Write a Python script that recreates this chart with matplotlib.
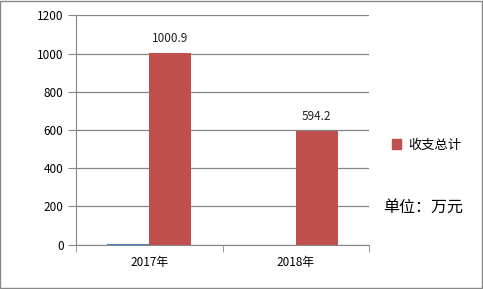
import matplotlib
matplotlib.use("Agg")
import matplotlib.pyplot as plt
import numpy as np

plt.rcParams['font.family'] = ['Noto Sans CJK SC', 'DejaVu Sans']

categories = ["2017年", "2018年"]
series_blue = [5, 0]
series_total = [1000.9, 594.2]
total_name = "收支总计"
yticks = [0, 200, 400, 600, 800, 1000, 1200]

blue = "#4F81BD"
red = "#C0504D"
grid = "#868686"

fig = plt.figure(figsize=(4.83, 2.89), dpi=100)
ax = fig.add_axes([76/483, 1-244.7/289, (369-76)/483, (244.7-15.3)/289])

x = np.arange(len(categories))
w = 0.286
ax.bar(x - w/2, series_blue, width=w, color=blue, zorder=3)
bars = ax.bar(x + w/2, series_total, width=w, color=red, zorder=3, label=total_name)
for b, v in zip(bars, series_total):
    ax.annotate(f"{v}", (b.get_x() + b.get_width()/2, v), xytext=(0, 6),
                textcoords="offset points", ha="center", va="bottom", fontsize=8.5, color="#222222")

ax.set_xlim(-0.5, 1.5)
ax.set_ylim(0, 1200)
ax.set_yticks(yticks)
ax.set_yticklabels([str(t) for t in yticks], fontsize=8.5)
ax.yaxis.grid(True, color=grid, linewidth=0.9, zorder=0)
ax.set_xticks(x)
ax.set_xticklabels(categories, fontsize=8.5)
ax.tick_params(axis='x', length=0, pad=8)
ax.set_xticks([-0.5, 0.5, 1.5], minor=True)
ax.tick_params(axis='x', which='minor', length=5, color=grid, direction='out')
ax.tick_params(axis='y', length=6, color=grid, direction='out', pad=3)
for s in ['top', 'right']:
    ax.spines[s].set_visible(False)
ax.spines['left'].set_color(grid)
ax.spines['bottom'].set_color(grid)

fig.patches.append(plt.Rectangle((0.001, 0.002), 0.997, 0.995, transform=fig.transFigure,
                                 fill=False, edgecolor="#888888", linewidth=1))

handles = [plt.Rectangle((0, 0), 1, 1, color=red)]
fig.legend(handles, [total_name], loc="center left", bbox_to_anchor=(380/483, 1-145/289),
           frameon=False, fontsize=9.5, handlelength=0.7, handleheight=0.7, handletextpad=0.5)
fig.text(383/483, 1-207/289, "单位：万元", fontsize=11.5, va="center", ha="left")

fig.savefig("out.png", dpi=100)
